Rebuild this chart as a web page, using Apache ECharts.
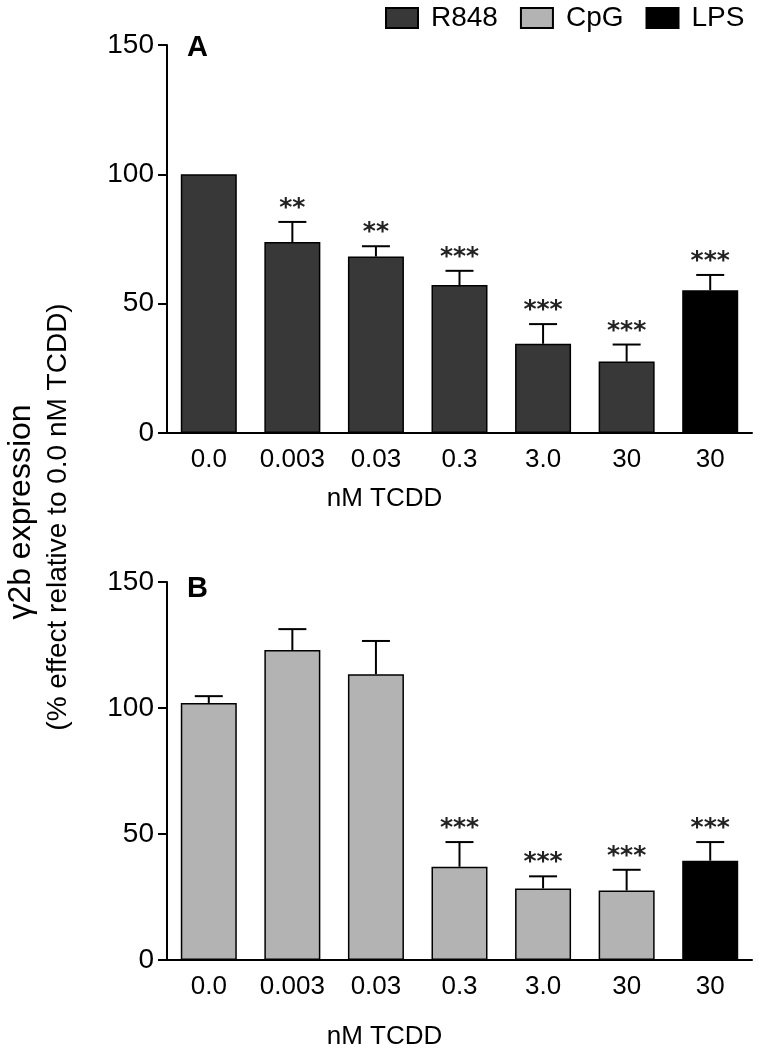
<!DOCTYPE html>
<html>
<head>
<meta charset="utf-8">
<script src="https://cdn.jsdelivr.net/npm/echarts@6/dist/echarts.min.js"></script>
<style>html,body{margin:0;padding:0;background:#fff}#c{width:760px;height:1051px}</style>
</head>
<body>
<div id="c"></div>
<script>
// ---- data ----
const categories = ['0.0', '0.003', '0.03', '0.3', '3.0', '30', '30'];
const yTicks = [0, 50, 100, 150];
// Panel A (R848 stimulation, last bar LPS)
const r848A = [100, 73.8, 68.2, 57.2, 34.5, 27.6, null];
const lpsA  = [null, null, null, null, null, null, 55.2];
const errA  = [0, 7.8, 4.0, 5.5, 7.6, 6.6, 5.9];
const sigA  = ['', '**', '**', '***', '***', '***', '***'];
// Panel B (CpG stimulation, last bar LPS)
const cpgB  = [102.0, 123.0, 113.4, 37.0, 28.4, 27.6, null];
const lpsB  = [null, null, null, null, null, null, 39.4];
const errB  = [2.7, 8.3, 13.2, 9.8, 4.8, 8.2, 7.4];
const sigB  = ['', '', '', '***', '***', '***', '***'];

const SANS = "'Liberation Sans',Arial,sans-serif";

function merged(a, b) { return a.map((v, i) => v != null ? v : b[i]); }

function errSeries(gi, vals, errs, sigs) {
  return {
    type: 'custom', xAxisIndex: gi, yAxisIndex: gi, z: 10,
    data: vals.map((v, i) => [i, v, errs[i]]),
    renderItem: function (params, api) {
      const i = api.value(0), v = api.value(1), e = api.value(2);
      const top = api.coord([i, v]);
      const cap = api.coord([i, v + e]);
      const children = [];
      if (e > 0) {
        children.push({ type: 'line', shape: { x1: top[0], y1: top[1], x2: cap[0], y2: cap[1] },
          style: { stroke: '#000', lineWidth: 2 } });
        children.push({ type: 'line', shape: { x1: cap[0] - 14, y1: cap[1], x2: cap[0] + 14, y2: cap[1] },
          style: { stroke: '#000', lineWidth: 2 } });
      }
      const s = sigs[params.dataIndex];
      if (s) {
        children.push({ type: 'text', x: cap[0], y: cap[1] - 1,
          style: { text: s, fill: '#222', font: "bold 25px 'DejaVu Sans',sans-serif",
            align: 'center', verticalAlign: 'bottom' } });
      }
      return { type: 'group', children: children };
    }
  };
}

function barSeries(name, gi, data, color) {
  return {
    name: name, type: 'bar', xAxisIndex: gi, yAxisIndex: gi,
    data: data, barWidth: 56, barGap: '-100%',
    itemStyle: { color: color, borderColor: '#000', borderWidth: 1.5 }
  };
}

function xAxis(gi, gap) {
  return {
    type: 'category', gridIndex: gi, data: categories,
    axisLine: { lineStyle: { color: '#000', width: 2 } },
    axisTick: { show: false },
    axisLabel: { color: '#000', fontSize: 26, fontFamily: SANS, margin: 14, interval: 0 },
    name: 'nM TCDD', nameLocation: 'middle', nameGap: gap,
    nameTextStyle: { color: '#000', fontSize: 26, fontFamily: SANS, padding: [0, 150, 0, 0] }
  };
}
function yAxis(gi) {
  return {
    type: 'value', gridIndex: gi, min: yTicks[0], max: yTicks[yTicks.length - 1], interval: 50,
    axisLine: { show: true, lineStyle: { color: '#000', width: 2 } },
    axisTick: { show: true, length: 9, lineStyle: { color: '#000', width: 2 } },
    axisLabel: { color: '#000', fontSize: 28, fontFamily: SANS, margin: 13 },
    splitLine: { show: false }
  };
}

const chart = echarts.init(document.getElementById('c'), null, { renderer: 'canvas' });
chart.setOption({
  animation: false,
  backgroundColor: '#fff',
  legend: {
    data: ['R848', 'CpG', 'LPS'], left: 385, top: 4, padding: 0,
    itemWidth: 32, itemHeight: 20, itemGap: 22, icon: 'rect',
    textStyle: { color: '#000', fontSize: 28, fontFamily: SANS, padding: [0, 0, 0, 8] }
  },
  grid: [
    { left: 167, top: 45, width: 585, height: 388 },
    { left: 167, top: 582, width: 585, height: 387 }
  ],
  xAxis: [xAxis(0, 53), xAxis(1, 64)],
  yAxis: [yAxis(0), yAxis(1)],
  graphic: [
    { type: 'text', left: 187, top: 33, style: { text: 'A', font: "bold 29px " + SANS, fill: '#000' } },
    { type: 'text', left: 187, top: 574, style: { text: 'B', font: "bold 29px " + SANS, fill: '#000' } },
    { type: 'text', x: 21, y: 512, rotation: Math.PI / 2,
      style: { text: 'γ2b expression', font: "32px " + SANS, fill: '#000', align: 'center', verticalAlign: 'middle' } },
    { type: 'text', x: 58, y: 517, rotation: Math.PI / 2,
      style: { text: '(% effect relative to 0.0 nM TCDD)', font: "28px " + SANS, fill: '#000', align: 'center', verticalAlign: 'middle' } }
  ],
  series: [
    barSeries('R848', 0, r848A, '#383838'),
    barSeries('LPS', 0, lpsA, '#000000'),
    barSeries('CpG', 1, cpgB, '#b3b3b3'),
    barSeries('LPS', 1, lpsB, '#000000'),
    errSeries(0, merged(r848A, lpsA), errA, sigA),
    errSeries(1, merged(cpgB, lpsB), errB, sigB)
  ]
});
</script>
</body>
</html>
